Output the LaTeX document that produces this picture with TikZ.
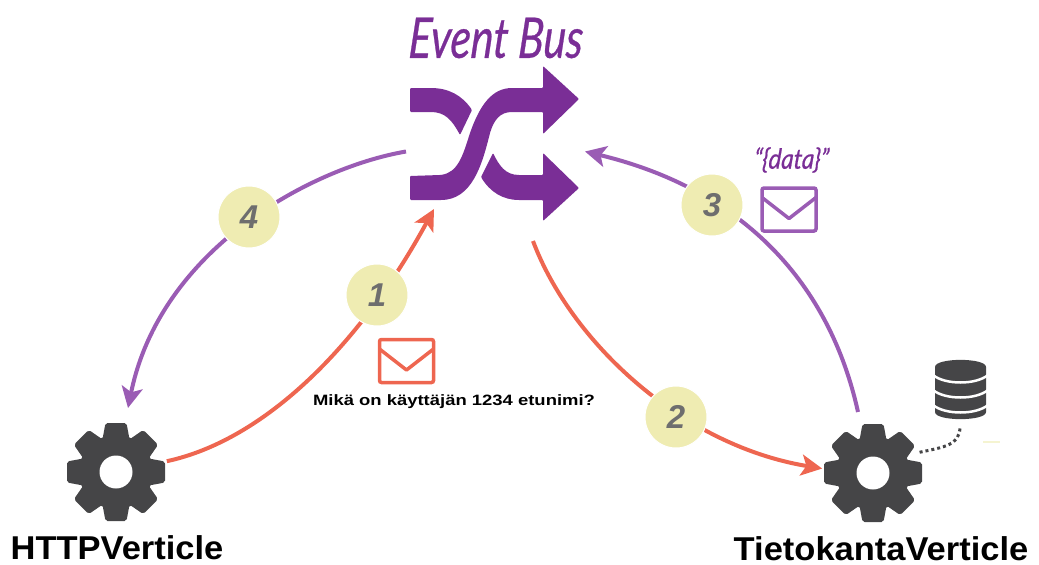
\documentclass[tikz,border=0pt]{standalone}
\usepackage{fontspec}
\usepackage{tikz}
\usetikzlibrary{arrows.meta}
\setmainfont{Liberation Sans}
\newfontfamily\titlefont[FakeBold=0.6, ItalicFeatures={FakeSlant=0.08}]{Lato}
\definecolor{busPurple}{HTML}{7A2E96}
\definecolor{arcPurple}{HTML}{9A5CB4}
\definecolor{arcOrange}{HTML}{EE6650}
\definecolor{stepYellow}{HTML}{EFECB2}
\definecolor{stepGrey}{HTML}{6E6E6E}
\definecolor{iconDark}{HTML}{454547}
\tikzset{
  pics/gear/.style={code={
    \fill [iconDark] (0,0) circle (37);
    \foreach \a in {0,45,...,315} {
      \fill [iconDark, rotate=\a, rounded corners=2pt] (30,-14) -- (49,-10.5) -- (49,10.5) -- (30,14) -- cycle;
    }
    \fill [white] (0,0) circle (16.5);
  }},
  pics/mail/.style={code={
    \draw [#1, line width=3.5pt, rounded corners=2pt] (-27,-21.5) rectangle (27,21.5);
    \draw [#1, line width=3.5pt, line join=round] (-27,-12) -- (0,9) -- (27,-12);
  }}
}
\begin{document}
\begin{tikzpicture}[
    x=1pt, y=-1pt,
    every node/.style={inner sep=0pt, outer sep=0pt},
    flow/.style={line width=4pt, -{Stealth[length=21pt, width=21pt, inset=5pt]}},
    stepnum/.style={circle, fill=stepYellow, draw=white, line width=1pt, minimum size=62pt,
      text=stepGrey, font=\fontsize{33}{33}\selectfont\bfseries\itshape},
    verticle/.style={transform shape, xscale=1.045, font=\fontsize{33}{33}\selectfont\bfseries}
  ]
  \useasboundingbox (0,0) rectangle (1039,565);
  \node (bus) [minimum width=179pt, minimum height=180pt] at (495.5,151.5) {};
  \node (http) [circle, minimum size=104pt] at (116,472) {};
  \node (tieto) [circle, minimum size=102pt] at (873,473) {};
  \node (db) [minimum width=52pt, minimum height=72pt] at (960,392) {};
  \coordinate (bus_in) at (434,209);
  \coordinate (bus_out) at (533,241);
  \coordinate (http_in) at (128,408);
  \coordinate (tieto_out) at (858,412);
  \draw [flow, arcOrange] (http.12) .. controls (265,440) and (360,345) .. (bus_in);
  \draw [flow, arcOrange] (bus_out) .. controls (570,340) and (680,445) .. (tieto.175);
  \draw [flow, arcPurple] (tieto_out) .. controls (830,285) and (745,190) .. (bus.east);
  \draw [flow, arcPurple] (bus.west) .. controls (310,168) and (160,250) .. (http_in);
  \draw [iconDark, line width=3pt, dash pattern=on 3pt off 3pt] (tieto.24) .. controls (945,447) and (959,445) .. (db.south);
  \node (step1) [stepnum] at (377,295) {1};
  \node (step2) [stepnum] at (676,417) {2};
  \node (step3) [stepnum] at (712,205) {3};
  \node (step4) [stepnum] at (249,217) {4};
  \fill [busPurple, rounded corners=1pt] (410,88) -- (430,88) .. controls (448,88) and (462,95) .. (472,110) -- (460,135) .. controls (452,120) and (445,112) .. (430,112) -- (410,112) -- cycle;
  \fill [busPurple, rounded corners=1pt] (410,176) -- (440,175) .. controls (458,173) and (463,155) .. (470,133) .. controls (480,105) and (492,88) .. (513,88) -- (543,88) -- (543,66) -- (579,99) -- (543,134) -- (543,112) -- (513,112) .. controls (500,112) and (494,120) .. (490,133) .. controls (482,165) and (472,200) .. (440,200) -- (410,200) -- cycle;
  \fill [busPurple, rounded corners=1pt] (493,153) .. controls (499,165) and (505,175) .. (520,175) -- (543,175) -- (543,153) -- (579,188) -- (543,221) -- (543,200) -- (520,200) .. controls (503,200) and (490,192) .. (481,177) -- cycle;
  \node (bus_label) [text=busPurple, transform shape, xscale=0.76, font=\fontsize{56}{56}\titlefont\itshape] at (495,38) {Event Bus};
  \node (data_label) [text=busPurple, transform shape, xscale=0.86, font=\fontsize{28}{28}\titlefont\itshape] at (791,160) {“\{data\}”};
  \pic at (406.5,361) {mail=arcOrange};
  \pic at (789,209.5) {mail=arcPurple};
  \node (question) [text=black, transform shape, xscale=1.23, font=\fontsize{15}{15}\selectfont\bfseries] at (454,402) {Mikä on käyttäjän 1234 etunimi?};
  \pic at (116,472) {gear};
  \pic at (873,473) {gear};
  \fill [iconDark] (935,367) .. controls (935,357.5) and (986,357.5) .. (986,367) -- (986,412) .. controls (986,421.5) and (935,421.5) .. (935,412) -- cycle;
  \foreach \y in {375,390,405} {
    \draw [white, line width=2.5pt] (933,\y) .. controls (945,\y+10) and (976,\y+10) .. (988,\y);
  }
  \node (http_label) [verticle, anchor=base] at (117,559) {HTTPVerticle};
  \node (tieto_label) [verticle, anchor=base] at (881,560) {TietokantaVerticle};
  \coordinate (dash_a) at (983,442);
  \coordinate (dash_b) at (1000,442);
  \draw [stepYellow!60, line width=1.5pt] (dash_a) -- (dash_b);
\end{tikzpicture}
\end{document}
